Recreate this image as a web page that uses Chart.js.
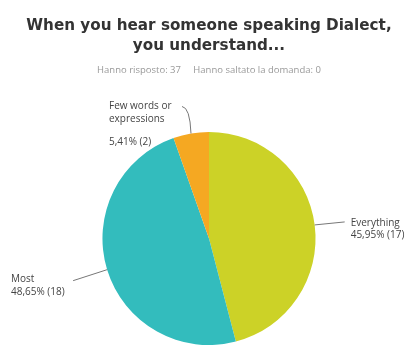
<!DOCTYPE html>
<html>
<head>
<meta charset="utf-8">
<script src="https://cdn.jsdelivr.net/npm/chart.js@4/dist/chart.umd.min.js"></script>
<style>
  body { margin: 0; background: #fff; }
</style>
</head>
<body>
<canvas id="pie" width="413" height="346"></canvas>
<script>
var answers = ['Everything', 'Most', 'Few words or expressions'];
var counts = [17, 18, 2];
var colors = ['#ccd227', '#33bcbd', '#f5a822'];
var answered = 37;
var skipped = 0;

function pct(v) {
    return (v / answered * 100).toFixed(2).replace('.', ',') + '%';
}

// callout text next to each slice: name lines, then "xx,xx% (n)"
var calloutLabels = {
    id: 'calloutLabels',
    afterDatasetsDraw: function (chart) {
        var ctx = chart.ctx;
        var arcs = chart.getDatasetMeta(0).data;
        ctx.save();
        ctx.font = '10px "Open Sans"';
        ctx.fillStyle = '#444';
        ctx.strokeStyle = '#777';
        ctx.lineWidth = 1;
        ctx.textBaseline = 'middle';
        ctx.textAlign = 'left';
        arcs.forEach(function (arc, i) {
            var mid = (arc.startAngle + arc.endAngle) / 2;
            var ex = arc.x + Math.cos(mid) * arc.outerRadius;
            var ey = arc.y + Math.sin(mid) * arc.outerRadius;
            var v = counts[i];
            var valueText = pct(v) + ' (' + v + ')';
            ctx.beginPath();
            if (i === 0) {
                ctx.moveTo(ex, ey);
                ctx.lineTo(ex + 30, ey - 3);
                ctx.stroke();
                ctx.fillText('Everything', ex + 36, ey - 2);
                ctx.fillText(valueText, ex + 36, ey + 10);
            } else if (i === 1) {
                ctx.moveTo(ex, ey);
                ctx.lineTo(ex - 34, ey + 11);
                ctx.stroke();
                ctx.fillText('Most', 11, ey + 9);
                ctx.fillText(valueText, 11, ey + 22);
            } else {
                ctx.moveTo(ex, ey);
                ctx.quadraticCurveTo(ex - 1, ey - 26, ex - 9, ey - 27);
                ctx.stroke();
                ctx.fillText('Few words or', ex - 82, ey - 27);
                ctx.fillText('expressions', ex - 82, ey - 14);
                ctx.fillText(valueText, ex - 82, ey + 9);
            }
        });
        ctx.restore();
    }
};

new Chart(document.getElementById('pie'), {
    type: 'pie',
    data: {
        labels: answers,
        datasets: [{
            data: counts,
            backgroundColor: colors,
            borderWidth: 0
        }]
    },
    options: {
        responsive: false,
        animation: false,
        layout: { padding: { left: 5, right: 0, bottom: 1 } },
        plugins: {
            legend: { display: false },
            tooltip: { enabled: false },
            title: {
                display: true,
                text: ['When you hear someone speaking Dialect,', 'you understand...'],
                color: '#333',
                font: { family: '"DejaVu Sans", sans-serif', size: 15.2, weight: 'bold', lineHeight: 1.3 },
                padding: { top: 16, bottom: 9 }
            },
            subtitle: {
                display: true,
                text: 'Hanno risposto: ' + answered + '     Hanno saltato la domanda: ' + skipped,
                color: '#999',
                font: { family: '"Open Sans", sans-serif', size: 9.5 },
                padding: { top: 0, bottom: 56 }
            }
        }
    },
    plugins: [calloutLabels]
});
</script>
</body>
</html>
